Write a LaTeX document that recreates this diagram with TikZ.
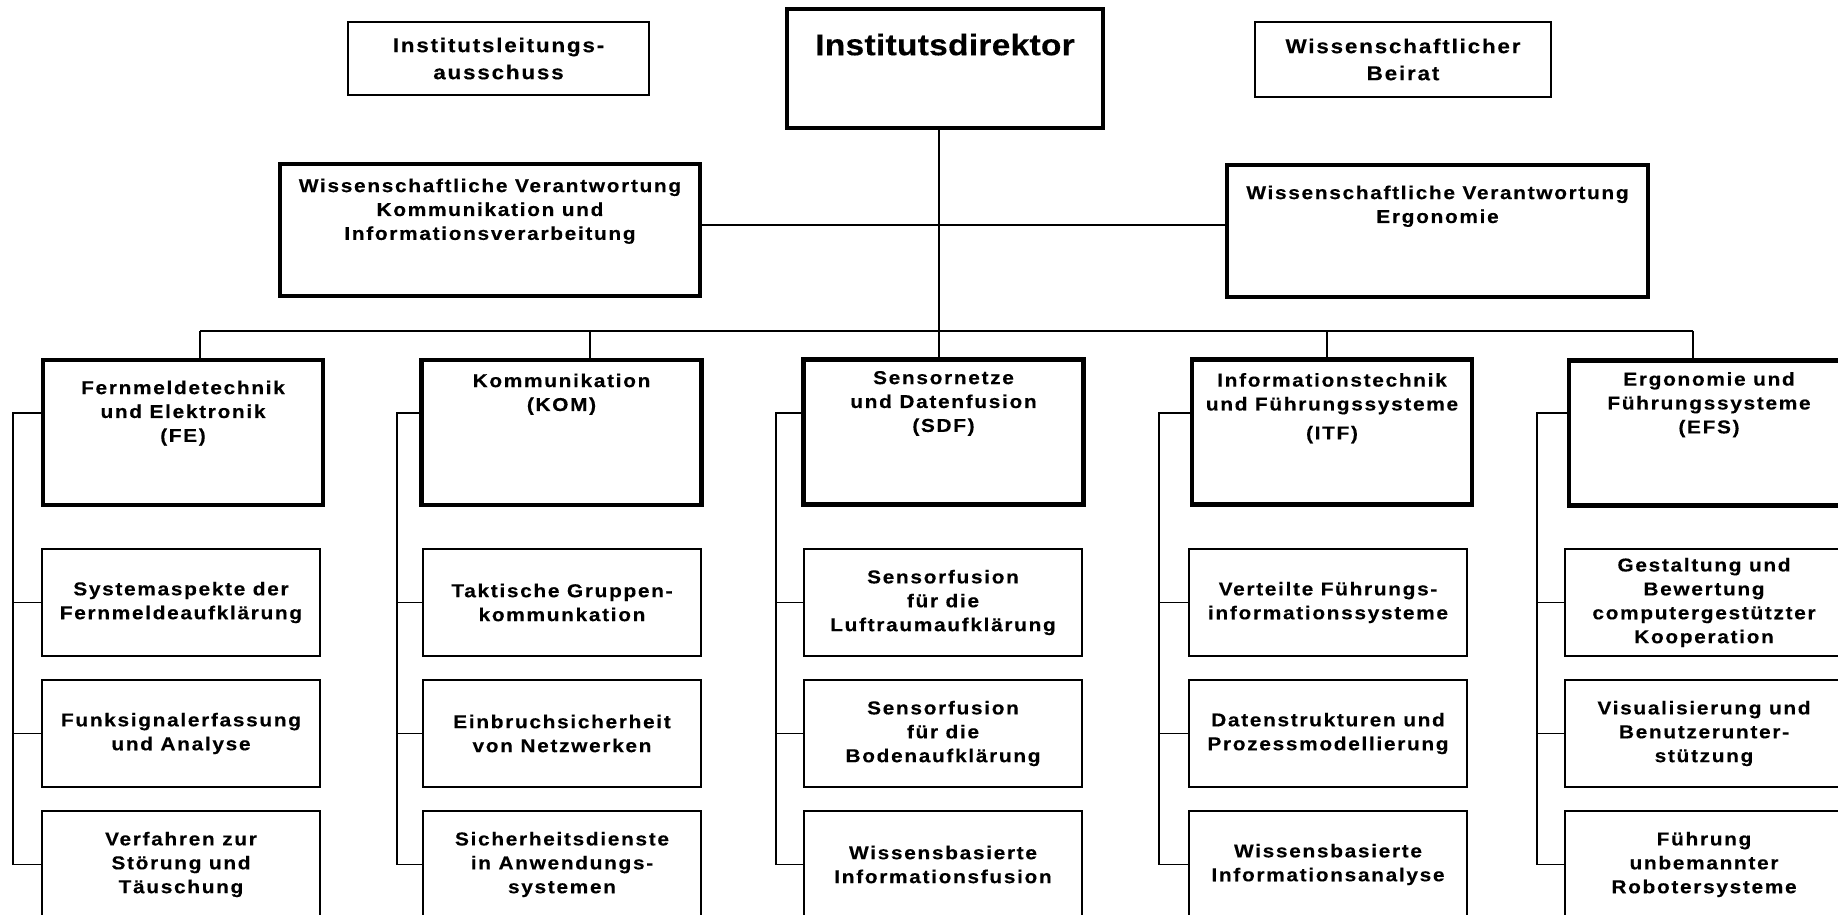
\documentclass[tikz,border=0pt]{standalone}
\usepackage{fontspec}
\newfontfamily\orgfont[LetterSpace=9,FakeStretch=1.12,FakeBold=0.3]{Liberation Sans}
\newfontfamily\dirfont[LetterSpace=1,FakeStretch=1.12,FakeBold=0.3]{Liberation Sans}
\usepackage{tikz}
\usetikzlibrary{positioning}
\tikzstyle{unit} = [draw=black, rectangle, inner sep=0pt, line width=0.55pt, align=center, font={\orgfont\bfseries\fontsize{5.3}{6.8}\selectfont}]
\tikzstyle{heavy} = [line width=1.2pt]
\tikzstyle{upper} = [unit, minimum width=30.1mm, minimum height=7.3mm, font={\orgfont\bfseries\fontsize{5.7}{7.7}\selectfont}]
\tikzstyle{dept} = [unit, heavy, minimum width=28mm, minimum height=14.5mm]
\tikzstyle{sub} = [unit, minimum width=27.8mm, minimum height=10.7mm]
\tikzstyle{headtext} = [inner sep=0pt, align=center, font={\orgfont\bfseries\fontsize{5.3}{6.8}\selectfont}]
\tikzstyle{conn} = [line width=0.5pt]

\begin{document}
\begin{tikzpicture}[x=0.1mm, y=-0.1mm]
    \useasboundingbox (0,0) rectangle (1838,915);
    \clip (0,0) rectangle (1838,915);
    % leitung
    \node[upper](ila) at (498.5,58.5){Institutsleitungs-\\ausschuss};
    \node[unit,heavy,minimum width=31.6mm,minimum height=11.9mm](dir) at (945,68.5){};
    \node[headtext,font={\dirfont\bfseries\fontsize{8.5}{10}\selectfont},below=2.6mm of dir.north](dirtext){Institutsdirektor};
    \node[upper,minimum width=29.6mm,minimum height=7.5mm](wb) at (1403,59.5){Wissenschaftlicher\\Beirat};
    \node[unit,heavy,minimum width=42mm,minimum height=13.2mm](wvk) at (490,230){};
    \node[headtext,below=1.6mm of wvk.north](wvktext){Wissenschaftliche Verantwortung\\Kommunikation und\\Informationsverarbeitung};
    \node[unit,heavy,minimum width=42.1mm,minimum height=13.2mm](wve) at (1437.5,231){};
    \node[headtext,below=2.2mm of wve.north](wvetext){Wissenschaftliche Verantwortung\\Ergonomie};
    % abteilungen
    \node[dept](fe) at (183,432.5){};
    \node[headtext,below=2.2mm of fe.north](fetext){Fernmeldetechnik\\und Elektronik\\(FE)};
    \node[dept](kom) at (561.5,432.5){};
    \node[headtext,below=1.5mm of kom.north](komtext){Kommunikation\\(KOM)};
    \node[dept](sdf) at (943.5,432){};
    \node[headtext,below=1.3mm of sdf.north](sdftext){Sensornetze\\und Datenfusion\\(SDF)};
    \node[dept](itf) at (1332,432){};
    \node[headtext,below=1.5mm of itf.north](itftext){Informationstechnik\\und F\"uhrungssysteme\\[0.5mm](ITF)};
    \node[dept](efs) at (1709,433){};
    \node[headtext,below=1.3mm of efs.north](efstext){Ergonomie und\\F\"uhrungssysteme\\(EFS)};
    % gruppen
    \node[sub](fe1) at (181,602.5){Systemaspekte der\\Fernmeldeaufkl\"arung};
    \node[sub](fe2) at (181,733.5){Funksignalerfassung\\und Analyse};
    \node[sub](fe3) at (181,864.5){Verfahren zur\\St\"orung und\\T\"auschung};
    \node[sub](kom1) at (562,602.5){Taktische Gruppen-\\kommunkation};
    \node[sub](kom2) at (562,733.5){Einbruchsicherheit\\von Netzwerken};
    \node[sub](kom3) at (562,864.5){Sicherheitsdienste\\in Anwendungs-\\systemen};
    \node[sub](sdf1) at (943,602.5){Sensorfusion\\f\"ur die\\Luftraumaufkl\"arung};
    \node[sub](sdf2) at (943,733.5){Sensorfusion\\f\"ur die\\Bodenaufkl\"arung};
    \node[sub](sdf3) at (943,864.5){Wissensbasierte\\Informationsfusion};
    \node[sub](itf1) at (1328,602.5){Verteilte F\"uhrungs-\\informationssysteme};
    \node[sub](itf2) at (1328,733.5){Datenstrukturen und\\Prozessmodellierung};
    \node[sub](itf3) at (1328,864.5){Wissensbasierte\\Informationsanalyse};
    \node[sub](efs1) at (1704,602.5){Gestaltung und\\Bewertung\\computergest\"utzter\\Kooperation};
    \node[sub](efs2) at (1704,733.5){Visualisierung und\\Benutzerunter-\\st\"utzung};
    \node[sub](efs3) at (1704,864.5){F\"uhrung\\unbemannter\\Robotersysteme};
    % linien oben
    \coordinate (h) at (939,225);
    \coordinate (b1) at (200,331);
    \coordinate (b2) at (590,331);
    \coordinate (b3) at (939,331);
    \coordinate (b4) at (1327,331);
    \coordinate (b5) at (1693,331);
    \draw[conn] (wvk.east |- h) -- (wve.west |- h);
    \draw[conn] (b3 |- dir.south) -- (b3 |- sdf.north);
    \draw[conn] (b1) -- (b5);
    \draw[conn] (b1) -- (b1 |- fe.north);
    \draw[conn] (b2) -- (b2 |- kom.north);
    \draw[conn] (b4) -- (b4 |- itf.north);
    \draw[conn] (b5) -- (b5 |- efs.north);
    % seitenschienen
    \coordinate (r1) at (13,413);
    \coordinate (r2) at (397,413);
    \coordinate (r3) at (776,413);
    \coordinate (r4) at (1159,413);
    \coordinate (r5) at (1537,413);
    \draw[conn] (fe.west |- r1) -- (r1) -- (r1 |- fe3.west) -- (fe3.west);
    \draw[conn] (r1 |- fe1.west) -- (fe1.west);
    \draw[conn] (r1 |- fe2.west) -- (fe2.west);
    \draw[conn] (kom.west |- r2) -- (r2) -- (r2 |- kom3.west) -- (kom3.west);
    \draw[conn] (r2 |- kom1.west) -- (kom1.west);
    \draw[conn] (r2 |- kom2.west) -- (kom2.west);
    \draw[conn] (sdf.west |- r3) -- (r3) -- (r3 |- sdf3.west) -- (sdf3.west);
    \draw[conn] (r3 |- sdf1.west) -- (sdf1.west);
    \draw[conn] (r3 |- sdf2.west) -- (sdf2.west);
    \draw[conn] (itf.west |- r4) -- (r4) -- (r4 |- itf3.west) -- (itf3.west);
    \draw[conn] (r4 |- itf1.west) -- (itf1.west);
    \draw[conn] (r4 |- itf2.west) -- (itf2.west);
    \draw[conn] (efs.west |- r5) -- (r5) -- (r5 |- efs3.west) -- (efs3.west);
    \draw[conn] (r5 |- efs1.west) -- (efs1.west);
    \draw[conn] (r5 |- efs2.west) -- (efs2.west);
\end{tikzpicture}
\end{document}
